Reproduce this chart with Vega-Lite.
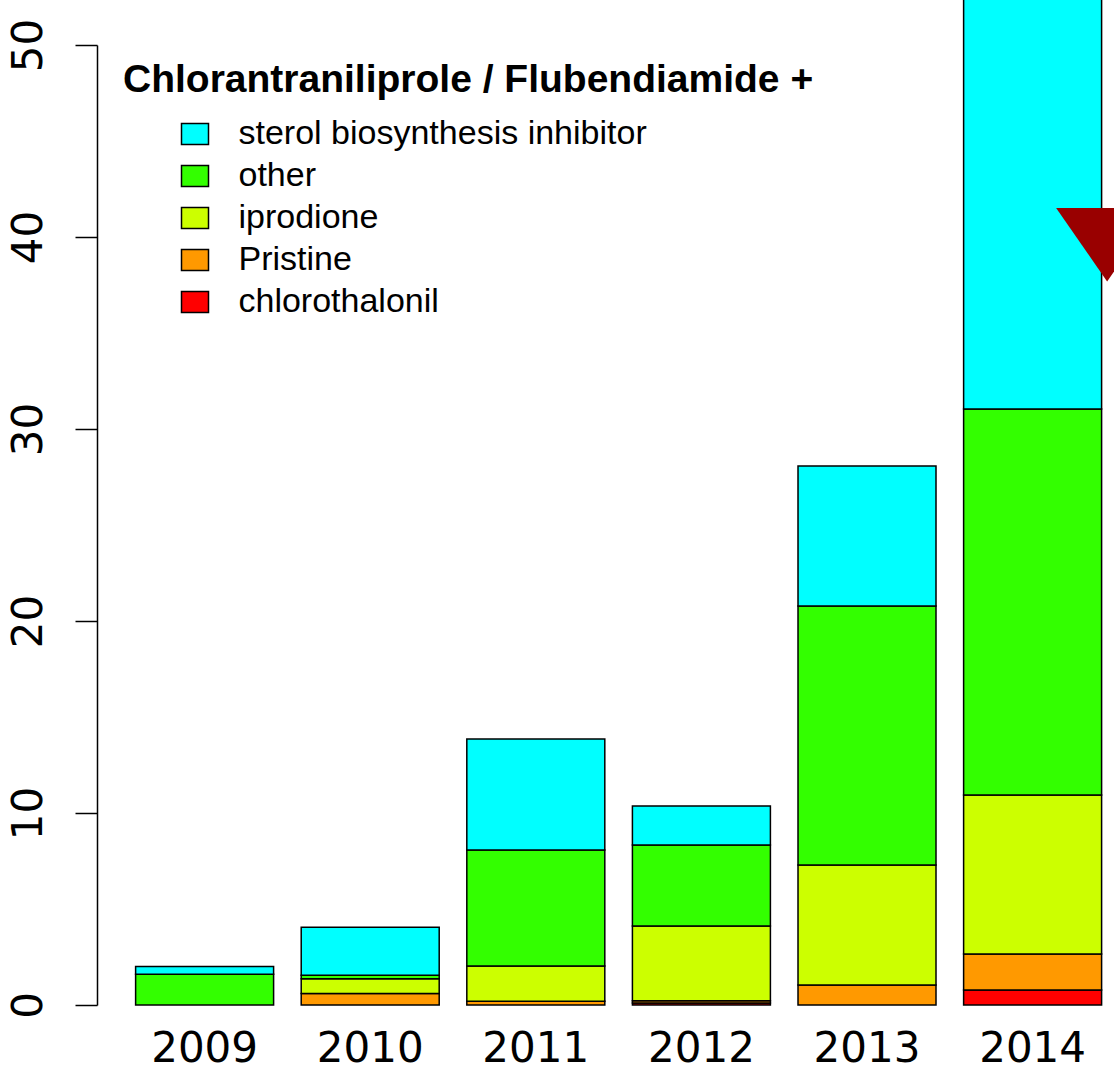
{
  "$schema": "https://vega.github.io/schema/vega-lite/v6.json",
  "width": 1017,
  "height": 960,
  "autosize": {"type": "none"},
  "padding": {"left": 97, "top": 45, "right": 0, "bottom": 60},
  "background": "white",
  "config": {"view": {"stroke": null}},
  "layer": [
    {
      "data": {
        "values": [
          {"year": "2009", "series": "other", "k": 4, "value": 1.6},
          {"year": "2009", "series": "sterol biosynthesis inhibitor", "k": 5, "value": 0.4},
          {"year": "2010", "series": "Pristine", "k": 2, "value": 0.6},
          {"year": "2010", "series": "iprodione", "k": 3, "value": 0.77},
          {"year": "2010", "series": "other", "k": 4, "value": 0.18},
          {"year": "2010", "series": "sterol biosynthesis inhibitor", "k": 5, "value": 2.5},
          {"year": "2011", "series": "Pristine", "k": 2, "value": 0.2},
          {"year": "2011", "series": "iprodione", "k": 3, "value": 1.83},
          {"year": "2011", "series": "other", "k": 4, "value": 6.04},
          {"year": "2011", "series": "sterol biosynthesis inhibitor", "k": 5, "value": 5.78},
          {"year": "2012", "series": "chlorothalonil", "k": 1, "value": 0.1},
          {"year": "2012", "series": "Pristine", "k": 2, "value": 0.12},
          {"year": "2012", "series": "iprodione", "k": 3, "value": 3.89},
          {"year": "2012", "series": "other", "k": 4, "value": 4.22},
          {"year": "2012", "series": "sterol biosynthesis inhibitor", "k": 5, "value": 2.03},
          {"year": "2013", "series": "Pristine", "k": 2, "value": 1.04},
          {"year": "2013", "series": "iprodione", "k": 3, "value": 6.25},
          {"year": "2013", "series": "other", "k": 4, "value": 13.49},
          {"year": "2013", "series": "sterol biosynthesis inhibitor", "k": 5, "value": 7.29},
          {"year": "2014", "series": "chlorothalonil", "k": 1, "value": 0.78},
          {"year": "2014", "series": "Pristine", "k": 2, "value": 1.88},
          {"year": "2014", "series": "iprodione", "k": 3, "value": 8.28},
          {"year": "2014", "series": "other", "k": 4, "value": 20.1},
          {"year": "2014", "series": "sterol biosynthesis inhibitor", "k": 5, "value": 25.0}
        ]
      },
      "mark": {"type": "bar", "stroke": "black", "strokeWidth": 1.5, "clip": false},
      "encoding": {
        "x": {
          "field": "year",
          "type": "nominal",
          "scale": {"paddingInner": 0.1667, "paddingOuter": 0.154, "align": 0.757},
          "axis": {
            "domain": false,
            "ticks": false,
            "tickSize": 0,
            "labelAngle": 0,
            "labelBaseline": "alphabetic",
            "labelPadding": 56,
            "labelFont": "DejaVu Sans",
            "labelFontSize": 42,
            "labelColor": "black",
            "title": null,
            "grid": false
          }
        },
        "y": {
          "field": "value",
          "type": "quantitative",
          "stack": "zero",
          "scale": {"domain": [0, 50], "nice": false, "zero": true},
          "axis": {
            "values": [0, 10, 20, 30, 40, 50],
            "tickSize": 22,
            "tickWidth": 1.5,
            "domainWidth": 1.5,
            "domainColor": "black",
            "tickColor": "black",
            "labelAngle": -90,
            "labelAlign": "center",
            "labelBaseline": "alphabetic",
            "labelPadding": 34,
            "labelFont": "DejaVu Sans",
            "labelFontSize": 42,
            "labelColor": "black",
            "labelFlush": false,
            "labelOverlap": false,
            "title": null,
            "grid": false
          }
        },
        "color": {
          "field": "series",
          "type": "nominal",
          "scale": {
            "domain": ["sterol biosynthesis inhibitor", "other", "iprodione", "Pristine", "chlorothalonil"],
            "range": ["#00FFFF", "#33FF00", "#CCFF00", "#FF9900", "#FF0000"]
          },
          "legend": {
            "orient": "none",
            "legendX": 26,
            "legendY": 15.8,
            "title": "Chlorantraniliprole / Flubendiamide +",
            "titleFont": "Liberation Sans",
            "titleFontSize": 39,
            "titleFontWeight": "bold",
            "titleColor": "black",
            "titleBaseline": "top",
            "titleAnchor": "start",
            "titleLimit": 2000,
            "titlePadding": 17.2,
            "symbolOffset": 55,
            "symbolType": "M-1,-0.78L1,-0.78L1,0.78L-1,0.78Z",
            "symbolSize": 729,
            "symbolStrokeColor": "black",
            "symbolStrokeWidth": 1.5,
            "symbolOpacity": 1,
            "labelFont": "Liberation Sans",
            "labelFontSize": 34,
            "labelColor": "black",
            "labelOffset": 26.5,
            "labelLimit": 1000,
            "rowPadding": 8,
            "padding": 0
          }
        },
        "order": {"field": "k", "type": "quantitative", "sort": "ascending"}
      }
    },
    {
      "data": {"values": [{"year": "2014", "value": 39.6}]},
      "mark": {
        "type": "point",
        "shape": "M-1,-0.72L1,-0.72L0,0.72Z",
        "size": 10404,
        "filled": true,
        "color": "#990000",
        "opacity": 1,
        "clip": false
      },
      "encoding": {
        "x": {"field": "year", "type": "nominal", "bandPosition": 1.04},
        "y": {"field": "value", "type": "quantitative"}
      }
    }
  ]
}
